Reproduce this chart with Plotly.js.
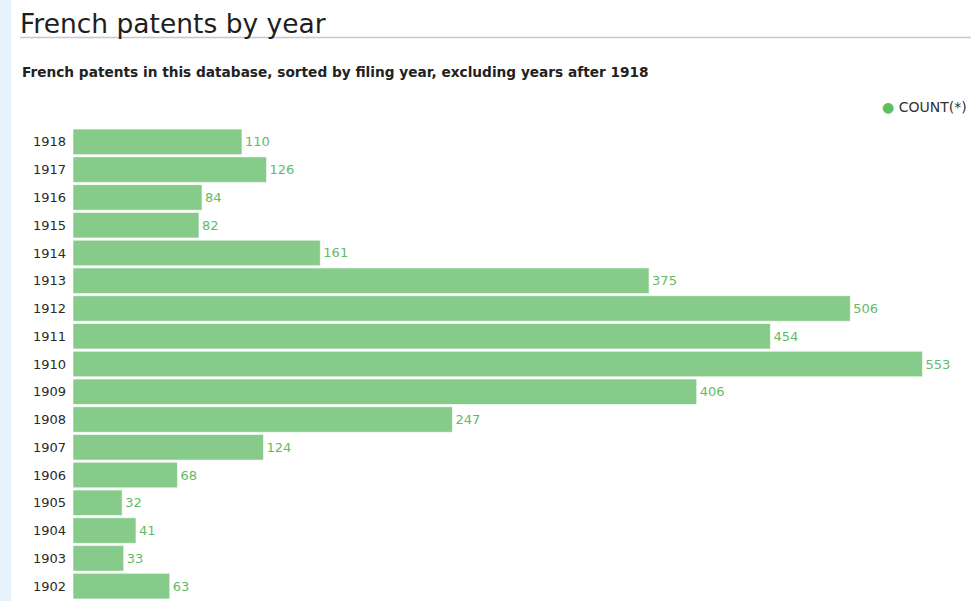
<!DOCTYPE html>
<html>
<head>
<meta charset="utf-8">
<script src="https://cdn.plot.ly/plotly-3.0.1.min.js"></script>
<style>
html,body{margin:0;padding:0;background:#fff;}
#chart{width:971px;height:601px;}
</style>
</head>
<body>
<div id="chart"></div>
<script>
const years = ["1918","1917","1916","1915","1914","1913","1912","1911","1910","1909","1908","1907","1906","1905","1904","1903","1902"];
const counts = [110,126,84,82,161,375,506,454,553,406,247,124,68,32,41,33,63];
const seriesName = "COUNT(*)";
const chartTitle = "French patents by year";
const chartSubtitle = "French patents in this database, sorted by filing year, excluding years after 1918";

const W = 971, H = 601;
const M = {l: 73, r: 7, t: 128, b: 1};
const pw = W - M.l - M.r, ph = H - M.t - M.b;
const px = x => (x - M.l) / pw;
const py = y => (H - M.b - y) / ph;

const green = "#86cb8a";
const trace = {
  type: "bar",
  orientation: "h",
  y: years,
  x: counts,
  name: seriesName,
  marker: {color: green, line: {color: "rgba(255,255,255,0.6)", width: 1}},
  text: counts.map(String),
  textposition: "outside",
  cliponaxis: false,
  textfont: {family: "DejaVu Sans, sans-serif", size: 13, color: "#62bb66"},
  hoverinfo: "x+y"
};

const layout = {
  width: W, height: H,
  margin: M,
  paper_bgcolor: "#fff",
  plot_bgcolor: "#fff",
  showlegend: false,
  bargap: 0.08,
  font: {family: "DejaVu Sans, sans-serif", color: "#333"},
  title: {
    text: chartTitle,
    x: 20 / W, xanchor: "left", xref: "container",
    y: 1 - 33 / H, yanchor: "bottom", yref: "container",
    font: {size: 26.5, color: "#1e1e1e", family: "DejaVu Sans, sans-serif"}
  },
  xaxis: {range: [0, 580], showgrid: false, zeroline: false, showticklabels: false, showline: false, fixedrange: true},
  yaxis: {
    categoryorder: "array", categoryarray: years.slice().reverse(),
    tickmode: "array", tickvals: years, ticktext: years,
    showgrid: false, zeroline: false, showline: false, ticks: "",
    ticklabelstandoff: 6,
    tickfont: {size: 13, color: "#2a2a2a", family: "DejaVu Sans, sans-serif"},
    fixedrange: true
  },
  shapes: [
    {type: "rect", xref: "paper", yref: "paper", x0: px(0), x1: px(11), y0: py(H), y1: py(0),
     fillcolor: "#e6f3fd", line: {width: 0}, layer: "below"},
    {type: "line", xref: "paper", yref: "paper", x0: px(20), x1: px(W), y0: py(37.5), y1: py(37.5),
     line: {color: "#c8c8c8", width: 1.5}}
  ],
  annotations: [
    {text: "<b>" + chartSubtitle + "</b>", xref: "paper", yref: "paper", x: px(20), y: py(72),
     xanchor: "left", yanchor: "middle", showarrow: false,
     font: {size: 13.7, color: "#222", family: "DejaVu Sans, sans-serif"}},
    {text: "<span style='color:#5cbf60;font-size:14px'>●</span> " + seriesName, xref: "paper", yref: "paper", x: px(880), y: py(107),
     xanchor: "left", yanchor: "middle", showarrow: false,
     font: {size: 14, color: "#333", family: "DejaVu Sans, sans-serif"}}
  ]
};

Plotly.newPlot("chart", [trace], layout, {displayModeBar: false, staticPlot: true});
</script>
</body>
</html>
